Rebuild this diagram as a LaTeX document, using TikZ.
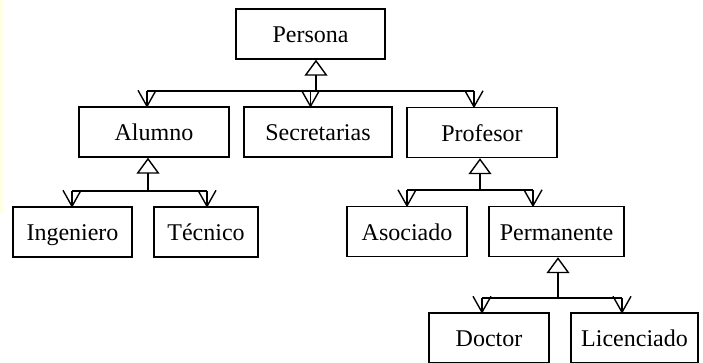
\documentclass[tikz,border=0pt]{standalone}
\usepackage{fontspec}
\setmainfont{Liberation Serif}
\usetikzlibrary{arrows.meta}
\definecolor{paleyellow}{RGB}{255,255,226}
% open "V" head for generalisation links, 16pt long and 18pt wide
\pgfdeclarearrow{
  name = OpenVee,
  setup code = {
    \pgfarrowssettipend{0pt}
    \pgfarrowssetlineend{0pt}
    \pgfarrowsupperhullpoint{-16pt}{9pt}
    \pgfarrowsupperhullpoint{0pt}{0pt}
  },
  drawing code = {
    \pgfsetdash{}{0pt}
    \pgfsetroundjoin
    \pgfpathmoveto{\pgfqpoint{-16pt}{9pt}}
    \pgfpathlineto{\pgfqpoint{0pt}{0pt}}
    \pgfpathlineto{\pgfqpoint{-16pt}{-9pt}}
    \pgfusepathqstroke
  }
}
\tikzset{
  cls/.style={draw, line width=1.4pt, inner sep=0pt, minimum height=50pt,
    text height=22pt, text depth=4.6pt,
    font=\fontsize{24}{28}\selectfont},
  inherit/.style={line width=1.4pt, -{Triangle[open, length=16pt, width=23pt, line width=1.4pt]}},
  tochild/.style={line width=1.4pt, -OpenVee},
  bus/.style={line width=1.4pt}
}
\begin{document}
\begin{tikzpicture}[x=1pt, y=1pt]
\useasboundingbox (0,0) rectangle (703,-363);
\clip (0,0) rectangle (703,-363);
\fill[white] (0,0) rectangle (703,-363);
\fill[paleyellow] (0,0) rectangle (3,-214);

% classes
\node[cls, minimum width=149pt] (persona)    at (310.5,-34)  {Persona};
\node[cls, minimum width=150pt] (alumno)     at (154,-132)   {Alumno};
\node[cls, minimum width=148pt] (secret)     at (318,-132)   {Secretarias};
\node[cls, minimum width=150pt] (profesor)   at (482,-132.5) {Profesor};
\node[cls, minimum width=119pt] (ingeniero)  at (72.5,-232)  {Ingeniero};
\node[cls, minimum width=104pt] (tecnico)    at (206,-232)   {Técnico};
\node[cls, minimum width=120pt] (asociado)   at (407,-231.5) {Asociado};
\node[cls, minimum width=135pt] (permanente) at (556.5,-231.5){Permanente};
\node[cls, minimum width=120pt] (doctor)     at (489,-338)   {Doctor};
\node[cls, minimum width=127pt] (licenciado) at (634.5,-338) {Licenciado};

% Persona hierarchy
\coordinate (p0) at (316,-91);
\coordinate (p1) at (147,-91);
\coordinate (p2) at (310.5,-91);
\coordinate (p3) at (474,-91);
\draw[bus] (p1) -- (p3);
\draw[inherit] (p0) -- (p0 |- persona.south);
\draw[tochild] (p1) -- (p1 |- alumno.north);
\draw[tochild] (p2) -- (p2 |- secret.north);
\draw[tochild] (p3) -- (p3 |- profesor.north);

% Alumno hierarchy
\coordinate (a0) at (148,-191);
\coordinate (a1) at (72,-191);
\coordinate (a2) at (207,-191);
\draw[bus] (a1) -- (a2);
\draw[inherit] (a0) -- (a0 |- alumno.south);
\draw[tochild] (a1) -- (a1 |- ingeniero.north);
\draw[tochild] (a2) -- (a2 |- tecnico.north);

% Profesor hierarchy
\coordinate (f0) at (480,-190);
\coordinate (f1) at (407,-190);
\coordinate (f2) at (533,-190);
\draw[bus] (f1) -- (f2);
\draw[inherit] (f0) -- (f0 |- profesor.south);
\draw[tochild] (f1) -- (f1 |- asociado.north);
\draw[tochild] (f2) -- (f2 |- permanente.north);

% Permanente hierarchy
\coordinate (m0) at (558,-298);
\coordinate (m1) at (482,-298);
\coordinate (m2) at (622,-298);
\draw[bus] (m1) -- (m2);
\draw[inherit] (m0) -- (m0 |- permanente.south);
\draw[tochild] (m1) -- (m1 |- doctor.north);
\draw[tochild] (m2) -- (m2 |- licenciado.north);
\end{tikzpicture}
\end{document}
